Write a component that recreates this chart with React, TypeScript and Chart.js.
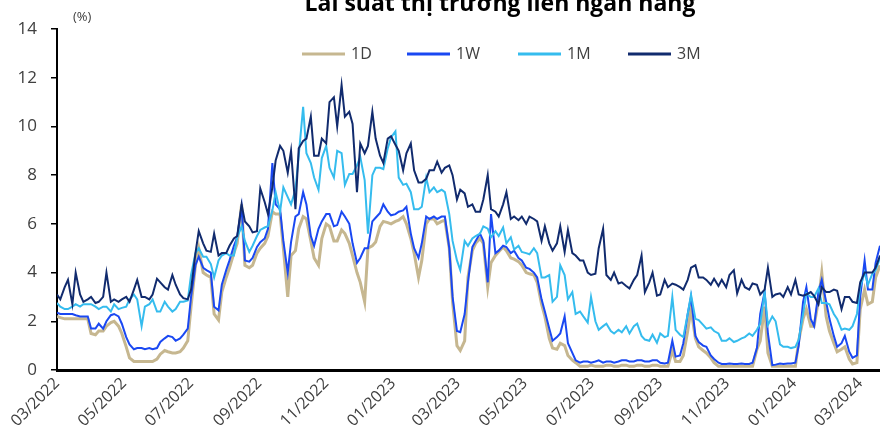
import React, { useEffect, useRef } from "react";
import { Chart, registerables } from "chart.js";

Chart.register(...registerables);

// Observation dates (twice a week)
const dates = [
  "2022-03-01", "2022-03-04", "2022-03-08", "2022-03-11", "2022-03-15", "2022-03-18", "2022-03-22", "2022-03-25", "2022-03-29", "2022-04-01",
  "2022-04-05", "2022-04-08", "2022-04-12", "2022-04-15", "2022-04-19", "2022-04-22", "2022-04-26", "2022-04-29", "2022-05-03", "2022-05-06",
  "2022-05-10", "2022-05-13", "2022-05-17", "2022-05-20", "2022-05-24", "2022-05-27", "2022-05-31", "2022-06-03", "2022-06-07", "2022-06-10",
  "2022-06-14", "2022-06-17", "2022-06-21", "2022-06-24", "2022-06-28", "2022-07-01", "2022-07-05", "2022-07-08", "2022-07-12", "2022-07-15",
  "2022-07-19", "2022-07-22", "2022-07-26", "2022-07-29", "2022-08-02", "2022-08-05", "2022-08-09", "2022-08-12", "2022-08-16", "2022-08-19",
  "2022-08-23", "2022-08-26", "2022-08-30", "2022-09-02", "2022-09-06", "2022-09-09", "2022-09-13", "2022-09-16", "2022-09-20", "2022-09-23",
  "2022-09-27", "2022-09-30", "2022-10-04", "2022-10-07", "2022-10-11", "2022-10-14", "2022-10-18", "2022-10-21", "2022-10-25", "2022-10-28",
  "2022-11-01", "2022-11-04", "2022-11-08", "2022-11-11", "2022-11-15", "2022-11-18", "2022-11-22", "2022-11-25", "2022-11-29", "2022-12-02",
  "2022-12-06", "2022-12-09", "2022-12-13", "2022-12-16", "2022-12-20", "2022-12-23", "2022-12-27", "2022-12-30", "2023-01-03", "2023-01-06",
  "2023-01-10", "2023-01-13", "2023-01-17", "2023-01-20", "2023-01-24", "2023-01-27", "2023-01-31", "2023-02-03", "2023-02-07", "2023-02-10",
  "2023-02-14", "2023-02-17", "2023-02-21", "2023-02-24", "2023-02-28", "2023-03-03", "2023-03-07", "2023-03-10", "2023-03-14", "2023-03-17",
  "2023-03-21", "2023-03-24", "2023-03-28", "2023-03-31", "2023-04-04", "2023-04-07", "2023-04-11", "2023-04-14", "2023-04-18", "2023-04-21",
  "2023-04-25", "2023-04-28", "2023-05-02", "2023-05-05", "2023-05-09", "2023-05-12", "2023-05-16", "2023-05-19", "2023-05-23", "2023-05-26",
  "2023-05-30", "2023-06-02", "2023-06-06", "2023-06-09", "2023-06-13", "2023-06-16", "2023-06-20", "2023-06-23", "2023-06-27", "2023-06-30",
  "2023-07-04", "2023-07-07", "2023-07-11", "2023-07-14", "2023-07-18", "2023-07-21", "2023-07-25", "2023-07-28", "2023-08-01", "2023-08-04",
  "2023-08-08", "2023-08-11", "2023-08-15", "2023-08-18", "2023-08-22", "2023-08-25", "2023-08-29", "2023-09-01", "2023-09-05", "2023-09-08",
  "2023-09-12", "2023-09-15", "2023-09-19", "2023-09-22", "2023-09-26", "2023-09-29", "2023-10-03", "2023-10-06", "2023-10-10", "2023-10-13",
  "2023-10-17", "2023-10-20", "2023-10-24", "2023-10-27", "2023-10-31", "2023-11-03", "2023-11-07", "2023-11-10", "2023-11-14", "2023-11-17",
  "2023-11-21", "2023-11-24", "2023-11-28", "2023-12-01", "2023-12-05", "2023-12-08", "2023-12-12", "2023-12-15", "2023-12-19", "2023-12-22",
  "2023-12-26", "2023-12-29", "2024-01-02", "2024-01-05", "2024-01-09", "2024-01-12", "2024-01-16", "2024-01-19", "2024-01-23", "2024-01-26",
  "2024-01-30", "2024-02-02", "2024-02-06", "2024-02-09", "2024-02-13", "2024-02-16", "2024-02-20", "2024-02-23", "2024-02-27", "2024-03-01",
  "2024-03-05", "2024-03-08", "2024-03-12", "2024-03-15", "2024-03-19",
];

const rate1D = [
  2.2, 2.15, 2.1, 2.1, 2.1, 2.1, 2.1, 2.1, 2.1, 1.5,
  1.45, 1.6, 1.6, 1.8, 1.95, 2.0, 1.8, 1.5, 0.95, 0.5,
  0.35, 0.35, 0.35, 0.35, 0.35, 0.35, 0.45, 0.65, 0.8, 0.75,
  0.7, 0.7, 0.75, 0.9, 1.2, 2.6, 4.3, 5.0, 4.0, 3.9,
  3.8, 2.3, 2.05, 3.2, 3.8, 4.2, 4.8, 5.2, 6.8, 4.3,
  4.2, 4.3, 4.8, 5.0, 5.2, 5.5, 6.5, 6.4, 6.4, 5.0,
  3.0, 4.7, 4.9, 5.8, 6.3, 6.2, 5.3, 4.6, 4.3, 5.4,
  6.0, 5.9, 5.3, 5.3, 5.75, 5.6, 5.2, 4.7, 4.0, 3.6,
  2.8, 5.0, 5.1, 5.25, 5.9, 6.1, 6.05, 6.0, 6.1, 6.15,
  6.3, 6.0, 5.4, 4.8, 3.8, 4.5, 6.0, 6.2, 6.2, 6.0,
  6.1, 6.15, 5.0, 2.8, 1.0, 0.8, 1.2, 3.8, 4.9, 5.2,
  5.4, 5.2, 3.4, 4.4, 4.7, 4.85, 5.05, 4.9, 4.6, 4.55,
  4.45, 4.3, 4.0, 3.95, 3.9, 3.6, 2.7, 2.2, 1.3, 0.9,
  0.85, 1.1, 1.0, 0.6, 0.4, 0.3, 0.15, 0.15, 0.15, 0.2,
  0.15, 0.15, 0.15, 0.2, 0.2, 0.15, 0.15, 0.2, 0.2, 0.15,
  0.15, 0.2, 0.2, 0.15, 0.15, 0.2, 0.2, 0.15, 0.15, 0.15,
  0.8, 0.35, 0.35, 0.6, 1.6, 2.5, 1.3, 0.95, 0.8, 0.7,
  0.5, 0.3, 0.15, 0.15, 0.15, 0.15, 0.15, 0.15, 0.15, 0.15,
  0.15, 0.15, 0.85, 1.2, 2.6, 0.7, 0.15, 0.15, 0.15, 0.15,
  0.15, 0.15, 0.15, 1.2, 2.1, 2.5, 1.8, 1.8, 2.85, 4.0,
  2.2, 1.6, 1.1, 0.75, 0.85, 0.95, 0.45, 0.25, 0.3, 2.5,
  3.3, 2.7, 2.8, 3.8, 4.3,
];

const rate1W = [
  2.35, 2.3, 2.3, 2.3, 2.3, 2.25, 2.2, 2.2, 2.2, 1.7,
  1.7, 1.9, 1.7, 2.0, 2.25, 2.3, 2.2, 1.9, 1.35, 1.05,
  0.85, 0.9, 0.9, 0.85, 0.9, 0.85, 0.9, 1.15, 1.3, 1.4,
  1.35, 1.2, 1.3, 1.45, 1.7, 3.0, 4.3, 4.65, 4.2, 4.1,
  4.0, 2.6, 2.45, 3.5, 4.1, 4.5, 5.1, 5.45, 6.7, 4.5,
  4.45, 4.6, 5.05, 5.25, 5.4, 5.8, 8.5, 6.8, 6.6, 5.3,
  4.0, 5.25, 6.3, 6.4, 7.3, 6.8, 5.5, 5.1, 5.8, 6.1,
  6.4, 6.4, 5.9, 5.95, 6.5, 6.3, 6.0, 5.2, 4.4, 4.6,
  5.0, 5.0, 6.1, 6.25, 6.45, 6.8, 6.5, 6.35, 6.4, 6.5,
  6.55, 6.7, 5.6, 5.0, 4.6, 5.2, 6.3, 6.2, 6.3, 6.2,
  6.3, 6.3, 5.0, 3.0, 1.6, 1.55, 2.3, 3.6, 5.05, 5.3,
  5.6, 5.3, 3.6, 6.4, 4.8, 4.9, 5.1, 5.05, 4.8, 4.9,
  4.6, 4.5, 4.2, 4.15, 4.0, 3.8, 2.9, 2.4, 1.7, 1.2,
  1.35, 1.5, 2.2, 1.1, 0.7, 0.4, 0.3, 0.35, 0.35, 0.3,
  0.35, 0.4, 0.3, 0.35, 0.35, 0.3, 0.35, 0.4, 0.4, 0.35,
  0.35, 0.4, 0.4, 0.35, 0.35, 0.4, 0.4, 0.3, 0.27, 0.3,
  1.2, 0.55, 0.6, 1.1, 2.3, 3.0, 1.4, 1.15, 1.0, 0.95,
  0.6, 0.45, 0.3, 0.25, 0.25, 0.27, 0.25, 0.25, 0.27, 0.25,
  0.25, 0.3, 0.9, 2.3, 3.2, 1.5, 0.2, 0.22, 0.27, 0.25,
  0.27, 0.27, 0.3, 1.0, 2.8, 3.4, 2.1, 1.8, 3.2, 3.7,
  2.8, 2.1, 1.4, 0.95, 1.1, 1.4, 0.75, 0.5, 0.6, 3.0,
  4.5, 3.3, 3.3, 4.4, 5.1,
];

const rate1M = [
  2.75, 2.6, 2.5, 2.5, 2.6, 2.7, 2.6, 2.7, 2.7, 2.7,
  2.6, 2.5, 2.6, 2.6, 2.4, 2.7, 2.5, 2.55, 2.6, 2.9,
  3.1, 2.9, 1.8, 2.6, 2.7, 2.9, 2.4, 2.4, 2.8, 2.6,
  2.4, 2.5, 2.8, 2.8, 2.85, 3.9, 4.8, 5.0, 4.65, 4.65,
  4.35, 3.8, 4.5, 4.7, 4.8, 4.7, 4.7, 5.45, 5.9, 5.3,
  4.85, 5.1, 5.5, 5.75, 5.85, 5.9, 6.55, 7.3, 6.5, 7.5,
  7.1, 6.8, 7.4, 8.8, 10.8, 8.9, 8.5, 7.9, 7.4, 8.7,
  9.2, 8.3, 7.9, 9.0, 8.9, 7.6, 8.05, 8.05, 8.4, 8.75,
  7.8, 5.6, 8.0, 8.3, 8.3, 8.25, 9.1, 9.55, 9.8, 7.9,
  7.6, 7.65, 7.3, 6.6, 6.6, 6.7, 7.9, 7.3, 7.5, 7.3,
  7.4, 7.3, 6.4, 5.3, 4.5, 4.1, 5.3, 5.1, 5.4, 5.5,
  5.6, 5.9, 5.8, 5.45, 5.7, 5.5, 5.85, 5.2, 5.45, 4.95,
  5.1, 4.85, 4.8, 4.75, 5.0, 4.8, 3.8, 3.8, 3.9, 2.8,
  3.0, 4.3, 3.9, 2.9, 3.2, 2.3, 2.4, 2.2, 1.95, 3.0,
  2.0, 1.65, 1.8, 1.9, 1.6, 1.5, 1.65, 1.55, 1.8, 1.5,
  1.8, 1.9, 1.4, 1.25, 1.2, 1.45, 1.12, 1.5, 1.35, 1.4,
  3.0, 1.65, 1.45, 1.35, 2.3, 3.1, 2.1, 2.05, 1.85, 1.7,
  1.75, 1.6, 1.5, 1.2, 1.2, 1.3, 1.15, 1.2, 1.3, 1.35,
  1.5, 1.4, 1.65, 1.9, 3.2, 1.85, 2.2, 2.0, 1.05, 0.95,
  0.95, 0.9, 0.95, 1.25, 2.3, 3.15, 3.0, 3.0, 3.35, 2.75,
  2.75, 2.7, 2.3, 2.1, 1.65, 1.7, 1.65, 1.8, 2.3, 3.4,
  4.0, 3.5, 3.95, 4.1, 4.6,
];

const rate3M = [
  3.1, 2.9, 3.4, 3.7, 2.7, 4.0, 3.1, 2.8, 2.9, 3.0,
  2.75, 2.8, 3.0, 4.0, 2.8, 2.9, 2.8, 2.9, 3.0, 2.8,
  3.3, 3.7, 3.0, 3.0, 2.9, 3.1, 3.75, 3.6, 3.4, 3.3,
  3.9, 3.5, 3.1, 2.95, 2.9, 3.3, 4.8, 5.7, 5.2, 4.9,
  4.85, 5.6, 4.7, 4.8, 4.8, 5.1, 5.4, 5.5, 6.8, 6.1,
  5.9, 5.65, 5.7, 7.45, 6.9, 6.4, 7.5, 8.6, 9.2, 9.0,
  8.1, 9.0, 6.6, 9.1, 9.4, 9.5, 10.4, 8.8, 8.8, 9.5,
  9.3, 11.0, 11.2, 10.0, 11.7, 10.4, 10.6, 10.1, 7.3, 9.3,
  8.9, 9.2, 10.6, 9.5, 8.8, 8.5, 9.5, 9.6, 9.25, 9.0,
  8.2, 8.9, 9.3, 8.2, 7.7, 7.7, 7.85, 8.2, 8.2, 8.55,
  8.1, 8.3, 8.4, 8.0, 7.0, 7.4, 7.25, 6.7, 6.8, 6.5,
  6.5, 7.0, 8.0, 6.6, 6.5, 6.3, 6.8, 7.3, 6.2, 6.3,
  6.15, 6.3, 6.0, 6.3, 6.2, 6.1, 5.3, 5.9, 5.2, 4.9,
  5.2, 5.9, 4.85, 5.75, 4.8, 4.7, 4.5, 4.5, 4.0, 3.9,
  3.95, 5.0, 5.8, 3.9, 3.7, 4.0, 3.55, 3.6, 3.45, 3.35,
  3.7, 3.9, 4.7, 3.2, 3.6, 4.0, 3.05, 3.1, 3.7, 3.4,
  3.55, 3.5, 3.4, 3.3, 3.7, 4.2, 4.3, 3.8, 3.8, 3.7,
  3.5, 3.75, 3.45, 3.7, 3.4, 3.9, 4.1, 3.15, 3.7, 3.4,
  3.3, 3.55, 3.5, 3.1, 3.3, 4.2, 3.0, 3.1, 3.15, 3.0,
  3.4, 3.1, 3.7, 3.1, 3.05, 3.1, 3.2, 3.05, 2.7, 3.4,
  3.2, 3.2, 3.3, 3.25, 2.5, 3.0, 3.0, 2.8, 2.75, 3.6,
  4.0, 4.0, 4.0, 4.2, 4.7,
];

const seriesNames = ["1D", "1W", "1M", "3M"];
const seriesColors = ["#C6B790", "#1A48F2", "#35BCEE", "#112B6E"];

const tickLabels = [
  "03/2022", "05/2022", "07/2022", "09/2022", "11/2022", "01/2023", "03/2023",
  "05/2023", "07/2023", "09/2023", "11/2023", "01/2024", "03/2024",
];

const titleText = "Lãi suất thị trường liên ngân hàng";
const unitText = "(%)";

const START = Date.UTC(2022, 2, 1);
const DAY = 86400000;
const dayOf = (iso: string) => {
  const [y, m, d] = iso.split("-").map(Number);
  return Math.round((Date.UTC(y, m - 1, d) - START) / DAY);
};
const tickDays = tickLabels.map((l) => {
  const [m, y] = l.split("/").map(Number);
  return Math.round((Date.UTC(y, m - 1, 1) - START) / DAY);
});

const FONT = "'Open Sans', 'DejaVu Sans', sans-serif";

export default function App() {
  const ref = useRef<HTMLCanvasElement>(null);

  useEffect(() => {
    if (!ref.current) return;
    const xs = dates.map(dayOf);
    const all = [rate1D, rate1W, rate1M, rate3M];
    const widths = [3, 2, 2, 2];
    const orders = [4, 3, 2, 1];
    const datasets = all.map((arr, i) => ({
      label: seriesNames[i],
      data: arr.map((v, j) => ({ x: xs[j], y: v })),
      borderColor: seriesColors[i],
      backgroundColor: seriesColors[i],
      borderWidth: widths[i],
      pointRadius: 0,
      tension: 0,
      fill: false,
      order: orders[i],
    }));

    const overlay = {
      id: "overlay",
      afterDraw(chart: any) {
        const ctx = chart.ctx as CanvasRenderingContext2D;
        ctx.save();
        ctx.fillStyle = "#000";
        ctx.font = `bold 23px ${FONT}`;
        ctx.textAlign = "center";
        ctx.textBaseline = "alphabetic";
        ctx.fillText(titleText, 500, 11);

        ctx.fillStyle = "#404040";
        ctx.font = `13px ${FONT}`;
        ctx.textAlign = "left";
        ctx.textBaseline = "middle";
        ctx.fillText(unitText, 73, 17);

        const legendX = [302, 407, 518, 628];
        const ly = 54;
        ctx.font = `16px ${FONT}`;
        seriesNames.forEach((name, i) => {
          ctx.strokeStyle = seriesColors[i];
          ctx.lineWidth = 3;
          ctx.beginPath();
          ctx.moveTo(legendX[i], ly);
          ctx.lineTo(legendX[i] + 43, ly);
          ctx.stroke();
          ctx.fillStyle = "#404040";
          ctx.fillText(name, legendX[i] + 49, ly);
        });
        ctx.restore();
      },
    };

    const chart = new Chart(ref.current, {
      type: "line",
      data: { datasets: datasets as any },
      options: {
        responsive: false,
        animation: false,
        layout: { padding: { top: 29, left: 0, right: 0, bottom: 0 } },
        plugins: {
          legend: { display: false },
          title: { display: false },
          tooltip: { enabled: false },
        },
        scales: {
          x: {
            type: "linear",
            min: 0,
            max: dayOf(dates[dates.length - 1]),
            afterFit: (s: any) => {
              s.height = 67;
            },
            afterBuildTicks: (s: any) => {
              s.ticks = tickDays.map((v) => ({ value: v }));
            },
            ticks: {
              autoSkip: false,
              minRotation: 45,
              maxRotation: 45,
              padding: 4,
              color: "#404040",
              font: { family: FONT, size: 16 },
              callback: (v: any) => {
                const i = tickDays.indexOf(Number(v));
                return i >= 0 ? tickLabels[i] : "";
              },
            },
            grid: { display: false, drawTicks: false },
            border: { display: true, color: "#000", width: 3 },
          },
          y: {
            min: 0,
            max: 14,
            afterFit: (s: any) => {
              s.width = 57;
            },
            ticks: {
              stepSize: 2,
              color: "#404040",
              padding: 14,
              font: { family: FONT, size: 17 },
            },
            grid: {
              drawOnChartArea: false,
              drawTicks: true,
              tickLength: 6,
              color: "#000",
              lineWidth: 1.5,
            },
            border: { display: true, color: "#000", width: 2 },
          },
        },
      } as any,
      plugins: [overlay],
    });
    return () => chart.destroy();
  }, []);

  return (
    <div style={{ position: "absolute", left: 0, top: 0, width: 880, height: 437, background: "#fff" }}>
      <canvas ref={ref} width={880} height={437} style={{ display: "block" }} />
    </div>
  );
}
